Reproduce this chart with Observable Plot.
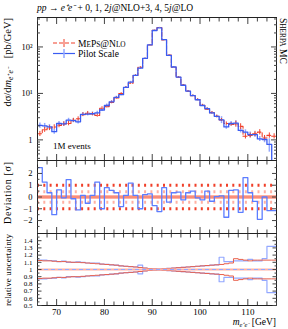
<!DOCTYPE html>
<html><head><meta charset="utf-8">
<script src="https://cdn.jsdelivr.net/npm/d3@7"></script>
<script src="https://cdn.jsdelivr.net/npm/@observablehq/plot@0.6"></script>
<style>
body{margin:0;background:#fff;}
#wrap{position:relative;width:288px;height:329px;overflow:hidden;font-family:"Liberation Serif",serif;}
#wrap svg{position:absolute;left:0;}
</style></head><body><div id="wrap"></div>
<script>
// ---- data ----
const massLow = [66,67,68,69,70,71,72,73,74,75,76,77,78,79,80,81,82,83,84,85,86,87,88,89,90,91,92,93,94,95,96,97,98,99,100,101,102,103,104,105,106,107,108,109,110,111,112,113,114,115];
const binWidth = 1;
const meps  = [1.35,1.65,1.8,1.9,2.05,2.2,2.25,2.65,2.85,3.5,3.75,3.6,3.35,4.8,5.2,6.4,8.0,9.9,13.4,16.5,24.3,36.5,56.5,110,228,262,141,66.5,36.6,22.2,15.1,11.1,8.9,7.35,5.55,4.6,3.85,3.2,2.7,2.25,2.15,2.2,1.95,1.2,1.25,1.35,1.47,1.1,1.25,1.2];
const pilot = [2.05,2.0,1.9,1.5,2.25,2.2,2.65,2.6,2.45,3.55,3.6,3.65,3.8,4.4,5.5,6.6,8.2,9.4,13.5,17.5,24.5,35,57,111,226,258,143,66,37,22.5,15,11.2,9.0,7.3,5.5,4.7,3.8,3.2,2.7,1.9,2.25,2.3,1.6,1.47,1.3,1.3,1.05,1.02,0.8,0.05];
const pilotDev = [2.5,1.27,0.36,-1.5,0.61,-0.07,1.47,-0.15,-1.1,0.13,-0.53,0.13,1.27,-1.0,0.79,0.56,0.36,-0.81,0.13,1.18,0.13,-1.0,0.21,0.27,-0.73,-1.24,0.79,-0.44,0.36,0.41,-0.24,0.36,0.5,-0.07,-0.24,0.5,-0.36,0.04,0.1,-1.72,0.56,0.61,-1.3,1.64,0.36,-0.38,-1.9,0.0,-1.15,-1.15];
const mepsRelUnc  = [.125,.12,.12,.115,.11,.11,.105,.10,.10,.095,.09,.085,.08,.075,.07,.065,.06,.05,.045,.04,.035,.028,.02,.013,.008,.006,.01,.015,.02,.025,.03,.035,.04,.045,.05,.055,.06,.065,.07,.08,.09,.15,.14,.13,.12,.13,.13,.13,.13,.13];
const pilotRelUnc = [.13,.13,.125,.12,.11,.115,.10,.10,.105,.10,.09,.09,.09,.075,.07,.065,.06,.05,.045,.04,.035,.06,.02,.013,.008,.006,.01,.015,.02,.025,.03,.035,.04,.045,.05,.055,.06,.065,.17,.11,.11,.12,.12,.12,.14,.12,.12,.15,.32,.32];
const xMajor = [70,80,90,100,110];
const yMainMajor = [1,10,100];
const devTicks = [-2,-1,0,1,2];
const uncTicks = [0.5,0.6,0.7,0.8,0.9,1,1.1,1.2,1.3,1.4];
const sigmaLines = [-1,1];
const sigmaInner = [-0.45,0.45];

const RED = "#f0402a", BLUE = "#3a5cf2", BLUE2 = "#5c7dff", PINK = "#ffb1a3", LBLUE = "#93a8ff";
const W = 288, ML = 37, MR = 12;
const XD = [66,116];
const FONT = "Liberation Serif";
const TICK = "#444";

const stepPts = vals => massLow.map((m,i)=>({x:m, y:vals[i]})).concat([{x:massLow[massLow.length-1]+binWidth, y:vals[vals.length-1]}]);
const centers = massLow.map(m => m + binWidth/2);
const xMinor = d3.range(66, 117, 2).filter(v => !xMajor.includes(v));

function xTicks(anchor){
  return [
    Plot.axisX(xMajor, {anchor, tickSize:-6, fill:"none", stroke:TICK, label:null}),
    Plot.axisX(xMinor, {anchor, tickSize:-3.5, fill:"none", stroke:TICK, label:null})
  ];
}
function yTicksBoth(major, minor, maj=6, min=3){
  const out = [];
  for (const anchor of ["left","right"]) {
    out.push(Plot.axisY(major, {anchor, tickSize:-maj, fill:"none", stroke:TICK, label:null}));
    if (minor.length) out.push(Plot.axisY(minor, {anchor, tickSize:-min, fill:"none", stroke:TICK, label:null}));
  }
  return out;
}
const baseStyle = {fontFamily: FONT, fontSize: "8.5px", background: "transparent", overflow: "visible", color:"#000"};

// ---- main panel ----
const yMinorLog = [];
for (const d of [0.1,1,10,100]) for (let k=2;k<=9;k++){ const v=d*k; if (v>=0.36 && v<=430) yMinorLog.push(v); }
const errRed = massLow.map((m,i)=>({x:centers[i], lo:meps[i]*(1-mepsRelUnc[i]), hi:meps[i]*(1+mepsRelUnc[i])}));
const errBlue = massLow.map((m,i)=>({x:centers[i], lo:Math.max(pilot[i]*(1-pilotRelUnc[i]),0.01), hi:pilot[i]*(1+pilotRelUnc[i])}));

const main = Plot.plot({
  width: W, height: 161, marginLeft: ML, marginRight: MR, marginTop: 17, marginBottom: 1,
  style: baseStyle,
  x: {domain: XD, axis: null},
  y: {type: "log", domain: [0.36, 430], axis: null},
  marks: [
    Plot.ruleX(errBlue, {x:"x", y1:"lo", y2:"hi", stroke: LBLUE, strokeWidth: 1.5, clip: true}),
    Plot.ruleX(errRed, {x:"x", y1:"lo", y2:"hi", stroke: RED, strokeWidth: 1, clip: true}),
    Plot.line(stepPts(meps), {x:"x", y:"y", curve:"step-after", stroke: RED, strokeWidth: 1.1, strokeDasharray: "4,2", clip: true}),
    Plot.line(stepPts(pilot), {x:"x", y:"y", curve:"step-after", stroke: BLUE, strokeWidth: 1.3, clip: true}),
    Plot.frame({stroke:"#222"}),
    ...yTicksBoth(yMainMajor, yMinorLog),
    Plot.axisY(yMainMajor, {anchor:"left", tickSize:0, tickPadding:5, label:null,
      tickFormat: d => d === 1 ? "1" : d === 10 ? "10\u00B9" : "10\u00B2"}),
    ...xTicks("bottom"), ...xTicks("top")
  ]
});
main.style.top = "0px";

// ---- deviation panel ----
const devMinor = d3.range(-3, 3.01, 0.5).filter(v => !Number.isInteger(v));
const dev = Plot.plot({
  width: W, height: 83, marginLeft: ML, marginRight: MR, marginTop: 5, marginBottom: 5,
  style: baseStyle,
  x: {domain: XD, axis: null},
  y: {domain: [-3.1, 3.1], axis: null},
  marks: [
    Plot.ruleY([0], {stroke: PINK, strokeWidth: 4}),
    Plot.ruleY([0], {stroke: "#f26a50", strokeWidth: 1}),
    Plot.ruleY(sigmaInner, {stroke: PINK, strokeWidth: 3, strokeDasharray: "2,4.3"}),
    Plot.ruleY(sigmaLines, {stroke: RED, strokeWidth: 3, strokeDasharray: "2,4.3"}),
    Plot.line(stepPts(pilotDev), {x:"x", y:"y", curve:"step-after", stroke: BLUE2, strokeWidth: 1.3, clip: true}),
    Plot.frame({stroke:"#222"}),
    ...yTicksBoth(devTicks, devMinor, 5, 2.5),
    Plot.axisY(devTicks, {anchor:"left", tickSize:0, tickPadding:5, label:null, tickFormat: d => d < 0 ? "\u2212" + (-d) : String(d)}),
    ...xTicks("bottom"), ...xTicks("top")
  ]
});
dev.style.top = "155px";

// ---- relative uncertainty panel ----
const uncMinor = d3.range(0.55, 1.5, 0.1);
const up = u => u.map(x => 1 + x);
const dn = u => u.map(x => 1 - x);
const unc = Plot.plot({
  width: W, height: 101, marginLeft: ML, marginRight: MR, marginTop: 5, marginBottom: 24,
  style: baseStyle,
  x: {domain: XD, axis: null},
  y: {domain: [0.5, 1.5], axis: null},
  marks: [
    Plot.line(stepPts(up(pilotRelUnc)), {x:"x", y:"y", curve:"step-after", stroke: LBLUE, strokeWidth: 1.2, clip: true}),
    Plot.line(stepPts(dn(pilotRelUnc)), {x:"x", y:"y", curve:"step-after", stroke: LBLUE, strokeWidth: 1.2, clip: true}),
    Plot.line(stepPts(up(mepsRelUnc)), {x:"x", y:"y", curve:"step-after", stroke: "#e8604c", strokeWidth: 1, clip: true}),
    Plot.line(stepPts(dn(mepsRelUnc)), {x:"x", y:"y", curve:"step-after", stroke: "#e8604c", strokeWidth: 1, clip: true}),
    Plot.ruleY([1], {stroke: PINK, strokeWidth: 2}),
    Plot.ruleY([1], {stroke: LBLUE, strokeWidth: 1.2, strokeDasharray: "4,3"}),
    Plot.frame({stroke:"#222"}),
    ...yTicksBoth(uncTicks, uncMinor, 4.5, 2.5),
    Plot.axisY(uncTicks, {anchor:"left", tickSize:0, tickPadding:5, label:null, fontSize: 7, tickFormat: d => d3.format("~g")(d)}),
    ...xTicks("bottom"), ...xTicks("top"),
    Plot.axisX(xMajor, {anchor:"bottom", tickSize:0, tickPadding:3, label:null, fontSize: 9})
  ]
});
unc.style.top = "228px";

const wrap = document.getElementById("wrap");
wrap.append(main, dev, unc);

// ---- annotations overlay ----
const svg = d3.select(wrap).append("svg").attr("width", W).attr("height", 329)
  .style("top","0px").style("font-family", FONT).style("pointer-events","none");

// title
const title = svg.append("text").attr("x", 37).attr("y", 11).attr("font-size", 9.5);
title.append("tspan").attr("font-style","italic").text("pp");
title.append("tspan").text(" \u2192 ");
title.append("tspan").attr("font-style","italic").text("e\u207Ae\u207B");
title.append("tspan").text(" + 0, 1, 2");
title.append("tspan").attr("font-style","italic").text("j");
title.append("tspan").text("@NLO+3, 4, 5");
title.append("tspan").attr("font-style","italic").text("j");
title.append("tspan").text("@LO");

// Sherpa MC (rotated)
const sh = svg.append("text").attr("transform","translate(280,18) rotate(90)").attr("font-size", 9.5);
sh.append("tspan").text("S");
sh.append("tspan").attr("font-size", 7.3).text("HERPA");
sh.append("tspan").text(" MC");

// main y label
const yl = svg.append("text").attr("transform","translate(11,18) rotate(-90)").attr("text-anchor","end").attr("font-size", 10.5);
yl.append("tspan").text("d\u03C3/d");
yl.append("tspan").attr("font-style","italic").text("m");
yl.append("tspan").attr("font-style","italic").attr("font-size",7.5).attr("dy",2).text("e\u207Ae\u207B");
yl.append("tspan").attr("dy",-2).attr("dx",9).text("[pb/GeV]");

// deviation y label
svg.append("text").attr("transform","translate(11,162) rotate(-90)").attr("text-anchor","end").attr("font-size", 10)
  .attr("textLength", 62).attr("lengthAdjust","spacing")
  .text("Deviation [\u03C3]");

// relative uncertainty label
svg.append("text").attr("transform","translate(11,270) rotate(-90)").attr("text-anchor","middle").attr("font-size", 9)
  .attr("textLength", 72).attr("lengthAdjust","spacing")
  .text("relative uncertainty");

// x label
const xl = svg.append("text").attr("x", 276).attr("y", 325).attr("text-anchor","end").attr("font-size", 9.5);
xl.append("tspan").attr("font-style","italic").text("m");
xl.append("tspan").attr("font-style","italic").attr("font-size",6.5).attr("dy",2).text("e\u207Ae\u207B");
xl.append("tspan").attr("dy",-2).text(" [GeV]");

// legend
svg.append("line").attr("x1",53).attr("x2",75).attr("y1",43).attr("y2",43).attr("stroke",RED).attr("stroke-width",1.1).attr("stroke-dasharray","4,2");
svg.append("line").attr("x1",64).attr("x2",64).attr("y1",39).attr("y2",47).attr("stroke",RED).attr("stroke-width",1);
svg.append("line").attr("x1",53).attr("x2",75).attr("y1",53.5).attr("y2",53.5).attr("stroke",BLUE).attr("stroke-width",1.2);
svg.append("line").attr("x1",64).attr("x2",64).attr("y1",49).attr("y2",58).attr("stroke",LBLUE).attr("stroke-width",1.5);
const l1 = svg.append("text").attr("x",78).attr("y",46.5).attr("font-size",9.5);
l1.append("tspan").text("M"); l1.append("tspan").attr("font-size",7.3).text("E");
l1.append("tspan").text("P"); l1.append("tspan").attr("font-size",7.3).text("S");
l1.append("tspan").text("@N"); l1.append("tspan").attr("font-size",7.3).text("LO");
svg.append("text").attr("x",78).attr("y",57).attr("font-size",9.5).text("Pilot Scale");

// 1M events
svg.append("text").attr("x",53).attr("y",149).attr("font-size",9).text("1M events");
</script></body></html>
